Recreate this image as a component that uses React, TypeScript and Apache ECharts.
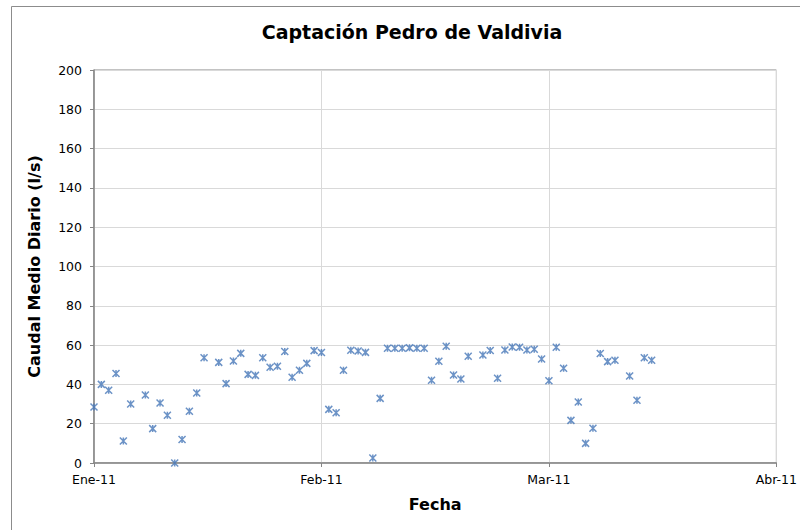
import React, { useEffect, useRef } from 'react';
import * as echarts from 'echarts';

// Fechas de medición (2011) y caudal medio diario (l/s)
const fechas: string[] = [
  '2011-01-01', '2011-01-02', '2011-01-03', '2011-01-04', '2011-01-05', '2011-01-06',
  '2011-01-08', '2011-01-09', '2011-01-10', '2011-01-11', '2011-01-12', '2011-01-13',
  '2011-01-14', '2011-01-15', '2011-01-16', '2011-01-18', '2011-01-19', '2011-01-20',
  '2011-01-21', '2011-01-22', '2011-01-23', '2011-01-24', '2011-01-25', '2011-01-26',
  '2011-01-27', '2011-01-28', '2011-01-29', '2011-01-30', '2011-01-31',
  '2011-02-01', '2011-02-02', '2011-02-03', '2011-02-04', '2011-02-05', '2011-02-06',
  '2011-02-07', '2011-02-08', '2011-02-09', '2011-02-10', '2011-02-11', '2011-02-12',
  '2011-02-13', '2011-02-14', '2011-02-15', '2011-02-16', '2011-02-17', '2011-02-18',
  '2011-02-19', '2011-02-20', '2011-02-21', '2011-02-23', '2011-02-24', '2011-02-25',
  '2011-02-26', '2011-02-27', '2011-02-28',
  '2011-03-01', '2011-03-02', '2011-03-03', '2011-03-04', '2011-03-05', '2011-03-06',
  '2011-03-07', '2011-03-08', '2011-03-09', '2011-03-10', '2011-03-11', '2011-03-12',
  '2011-03-13', '2011-03-15', '2011-03-16', '2011-03-17', '2011-03-18',
];

const caudal: number[] = [
  28.5, 40, 37, 45.5, 11.2, 30,
  34.6, 17.5, 30.5, 24.3, 0, 12,
  26.3, 35.6, 53.6, 51.2, 40.4, 51.9,
  55.8, 45.1, 44.6, 53.6, 48.7, 49.2,
  56.7, 43.6, 47.2, 50.7, 57.2,
  56.2, 27.3, 25.6, 47.2, 57.4, 57,
  56.3, 2.5, 32.9, 58.4, 58.4, 58.4,
  58.6, 58.4, 58.4, 42.1, 51.8, 59.4,
  44.8, 42.7, 54.3, 55, 57.3, 43.1,
  57.5, 59, 58.9,
  57.5, 57.9, 52.9, 41.9, 58.9, 48.2,
  21.7, 31, 10, 17.7, 55.7, 51.6,
  52.3, 44.3, 31.9, 53.6, 52.3,
];

// Eje X: días desde el 1 de enero de 2011, con marcas cada 31 días
const xTickLabels: string[] = ['Ene-11', 'Feb-11', 'Mar-11', 'Abr-11'];
const xTickStep = 31;

const titulo = 'Captación Pedro de Valdivia';
const nombreEjeX = 'Fecha';
const nombreEjeY = 'Caudal Medio Diario (l/s)';

const FONT = "Verdana, 'DejaVu Sans', sans-serif";

function diasDesdeInicio(f: string): number {
  const [y, m, d] = f.split('-').map(Number);
  return Math.round((Date.UTC(y, m - 1, d) - Date.UTC(2011, 0, 1)) / 86400000);
}

export default function App() {
  const ref = useRef<HTMLDivElement>(null);

  useEffect(() => {
    if (!ref.current) return;
    const chart = echarts.init(ref.current, undefined, { renderer: 'svg' });
    const data = fechas.map((f, i) => [diasDesdeInicio(f), caudal[i]]);

    chart.setOption({
      animation: false,
      backgroundColor: '#ffffff',
      textStyle: { fontFamily: FONT },
      graphic: [
        {
          type: 'rect',
          z: -10,
          shape: { x: 11.5, y: 6.5, width: 820, height: 560 },
          style: { fill: 'none', stroke: '#8c8c8c', lineWidth: 1 },
          silent: true,
        },
        {
          type: 'text',
          x: 412,
          y: 32,
          style: {
            text: titulo,
            fontFamily: FONT,
            fontSize: 19,
            fontWeight: 'bold',
            fill: '#000000',
            textAlign: 'center',
            textVerticalAlign: 'middle',
          },
        },
      ],
      grid: {
        left: 94,
        right: 21,
        top: 70,
        bottom: 67,
        show: true,
        borderColor: '#868686',
        borderWidth: 1,
        backgroundColor: 'transparent',
      },
      xAxis: {
        type: 'value',
        min: 0,
        max: xTickStep * (xTickLabels.length - 1),
        interval: xTickStep,
        name: nombreEjeX,
        nameLocation: 'middle',
        nameGap: 33,
        nameTextStyle: { fontFamily: FONT, fontSize: 16, fontWeight: 'bold', color: '#000' },
        axisLine: { show: true, lineStyle: { color: '#868686', width: 1.5 } },
        axisTick: { show: true, length: 4, lineStyle: { color: '#868686' } },
        axisLabel: {
          fontFamily: FONT,
          fontSize: 12.5,
          color: '#000',
          margin: 10,
          showMaxLabel: true,
          formatter: (v: number) => xTickLabels[Math.round(v / xTickStep)] ?? '',
        },
        splitLine: { show: true, lineStyle: { color: '#d9d9d9', width: 1 } },
      },
      yAxis: {
        type: 'value',
        min: 0,
        max: 200,
        interval: 20,
        name: nombreEjeY,
        nameLocation: 'middle',
        nameRotate: 90,
        nameGap: 52,
        nameTextStyle: { fontFamily: FONT, fontSize: 16, fontWeight: 'bold', color: '#000' },
        axisLine: { show: true, lineStyle: { color: '#868686', width: 1.5 } },
        axisTick: { show: true, length: 4, lineStyle: { color: '#868686' } },
        axisLabel: { fontFamily: FONT, fontSize: 12.5, color: '#000', margin: 12 },
        splitLine: { show: true, lineStyle: { color: '#d9d9d9', width: 1 } },
      },
      series: [
        {
          type: 'scatter',
          data,
          symbol: 'path://M0,0L10,10M10,0L0,10M5,0L5,10',
          symbolSize: 7,
          itemStyle: {
            color: 'rgba(0,0,0,0)',
            borderColor: '#4677b8',
            borderWidth: 1.5,
          },
          emphasis: { disabled: true },
        },
      ],
    });

    return () => chart.dispose();
  }, []);

  return (
    <div
      ref={ref}
      style={{ position: 'absolute', left: 0, top: 0, width: 800, height: 530 }}
    />
  );
}
